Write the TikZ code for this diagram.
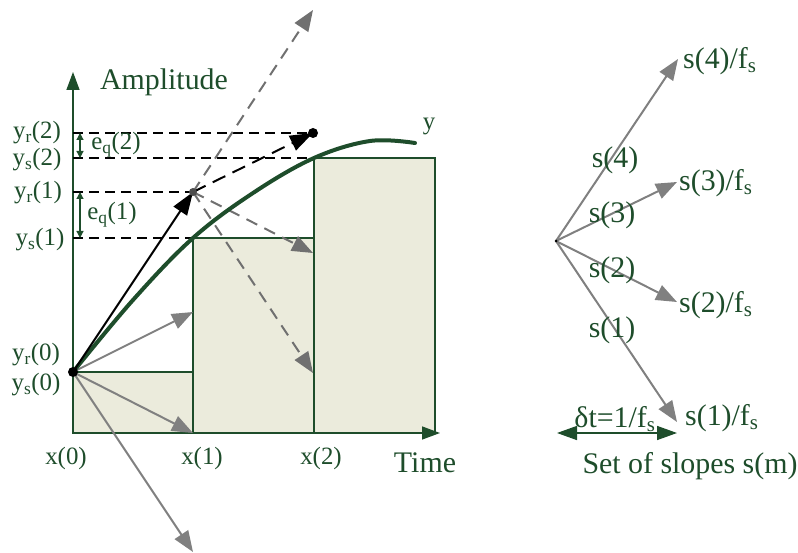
\documentclass[tikz,border=0pt]{standalone}
\usepackage{fontspec}
\setmainfont{Liberation Serif}
\usetikzlibrary{arrows.meta}
\definecolor{dg}{HTML}{1E4D2B}
\definecolor{boxfill}{HTML}{EBEBDC}
\definecolor{ga}{HTML}{808080}
\definecolor{gd}{HTML}{707070}
\begin{document}
\begin{tikzpicture}[x=1bp,y=-1bp,
  lbl/.style={text=dg,font=\fontsize{25}{28}\selectfont,inner sep=0pt},
  big/.style={text=dg,font=\fontsize{30}{34}\selectfont,inner sep=0pt},
  stepbox/.style={draw=dg,fill=boxfill,line width=1.2bp},
  axis/.style={draw=dg,line width=1.5bp,-{Triangle[length=18bp,width=13bp]}},
  garrow/.style={draw=ga,line width=2bp,-{Triangle[length=21bp,width=16bp]}},
  gdash/.style={draw=gd,line width=2bp,dash pattern=on 12bp off 8bp,-{Triangle[length=21bp,width=16bp]}},
  hdash/.style={draw=black,line width=1.5bp,dash pattern=on 10bp off 6bp},
  barrow/.style={draw=black,line width=2bp,-{Triangle[length=23bp,width=16bp]}},
  err/.style={draw=dg,line width=1.2bp,{Triangle[length=7bp,width=7bp]}-{Triangle[length=7bp,width=7bp]}},
  dtarrow/.style={draw=dg,line width=1.5bp,{Triangle[length=20bp,width=14bp]}-{Triangle[length=20bp,width=14bp]}}
]
\useasboundingbox (0,0) rectangle (798,553);
% key coordinates
\coordinate (O) at (73,372);
\coordinate (B) at (73,433);
\coordinate (Ytop) at (73,72);
\coordinate (Xend) at (440,433);
\coordinate (P1) at (193,192);
\coordinate (P2) at (313,133);
% boxes
\draw[stepbox] (73,372) rectangle (193,433);
\draw[stepbox] (193,238) rectangle (314,433);
\draw[stepbox] (314,158) rectangle (435,433);
% axes
\draw[axis] (B) -- (Ytop);
\draw[axis] (B) -- (Xend);
% dashed horizontal levels
\coordinate (Lr2) at (73,133);
\coordinate (Ls2a) at (73,158); \coordinate (Ls2b) at (314,158);
\coordinate (Lr1a) at (73,192);
\coordinate (Ls1a) at (73,238); \coordinate (Ls1b) at (193,238);
\draw[hdash] (Lr2) -- (P2);
\draw[hdash] (Ls2a) -- (Ls2b);
\draw[hdash] (Lr1a) -- (P1);
\draw[hdash] (Ls1a) -- (Ls1b);
% error arrows
\coordinate (E2a) at (80,133); \coordinate (E2b) at (80,158);
\coordinate (E1a) at (80,192); \coordinate (E1b) at (80,238);
\draw[err] (E2a) -- (E2b);
\draw[err] (E1a) -- (E1b);
% gray slope arrows from origin
\coordinate (G1) at (193,312);
\coordinate (G2) at (193,433);
\coordinate (G3) at (193,552);
\draw[garrow] (O) -- (G1);
\draw[garrow] (O) -- (G2);
\draw[garrow] (O) -- (G3);
% gray dashed slope arrows from P1
\coordinate (D1) at (313,10);
\coordinate (D2) at (313,253);
\coordinate (D3) at (313,373);
\draw[gdash] (P1) -- (D1);
\draw[gdash] (P1) -- (D2);
\draw[gdash] (P1) -- (D3);
% signal curve
\draw[dg,line width=4bp,line cap=round] plot[smooth,tension=0.6] coordinates {(73,372) (133,300) (193,238) (253,193) (314,158) (370,141) (415,143)};
% black reconstruction arrows
\draw[barrow] (O) -- (P1);
\draw[barrow,dash pattern=on 14bp off 8bp] (P1) -- (P2);
% dots
\fill[black] (O) circle (5bp);
\fill[black!70] (P1) circle (4bp);
\fill[black] (P2) circle (5bp);
% labels
\node[big] (amp) at (164,82) {Amplitude};
\node[big] (time) at (425,463) {Time};
\node[lbl] (ylab) at (429,126) {y};
\node[lbl] (x0) at (66,459) {x(0)};
\node[lbl] (x1) at (202,459) {x(1)};
\node[lbl] (x2) at (321,459) {x(2)};
\node[lbl] (yr2) at (37,133) {y\textsubscript{r}(2)};
\node[lbl] (ys2) at (37,160) {y\textsubscript{s}(2)};
\node[lbl] (yr1) at (38,193) {y\textsubscript{r}(1)};
\node[lbl] (ys1) at (40,240) {y\textsubscript{s}(1)};
\node[lbl] (yr0) at (36,355) {y\textsubscript{r}(0)};
\node[lbl] (ys0) at (36,385) {y\textsubscript{s}(0)};
\node[lbl] (eq2) at (116,145) {e\textsubscript{q}(2)};
\node[lbl] (eq1) at (112,215) {e\textsubscript{q}(1)};
% slope set
\coordinate (C) at (556,241);
\coordinate (S4) at (678,59);
\coordinate (S3) at (677,182);
\coordinate (S2) at (677,302);
\coordinate (S1) at (677,422);
\draw[garrow] (C) -- (S4);
\draw[garrow] (C) -- (S3);
\draw[garrow] (C) -- (S2);
\draw[garrow] (C) -- (S1);
\fill[black] (C) circle (1.5bp);
\node[big,anchor=west] (s4f) at (683,61) {s(4)/f\textsubscript{s}};
\node[big,anchor=west] (s3f) at (679,183) {s(3)/f\textsubscript{s}};
\node[big,anchor=west] (s2f) at (679,305) {s(2)/f\textsubscript{s}};
\node[big,anchor=west] (s1f) at (685,418) {s(1)/f\textsubscript{s}};
\node[big] (s4) at (615,160) {s(4)};
\node[big] (s3) at (612,215) {s(3)};
\node[big] (s2) at (612,270) {s(2)};
\node[big] (s1) at (612,330) {s(1)};
\coordinate (T1) at (557,433);
\coordinate (T2) at (677,433);
\draw[dtarrow] (T1) -- (T2);
\node[big] (dt) at (615,419) {δt=1/f\textsubscript{s}};
\node[big] (set) at (690,466) {Set of slopes s(m)};
\end{tikzpicture}
\end{document}
